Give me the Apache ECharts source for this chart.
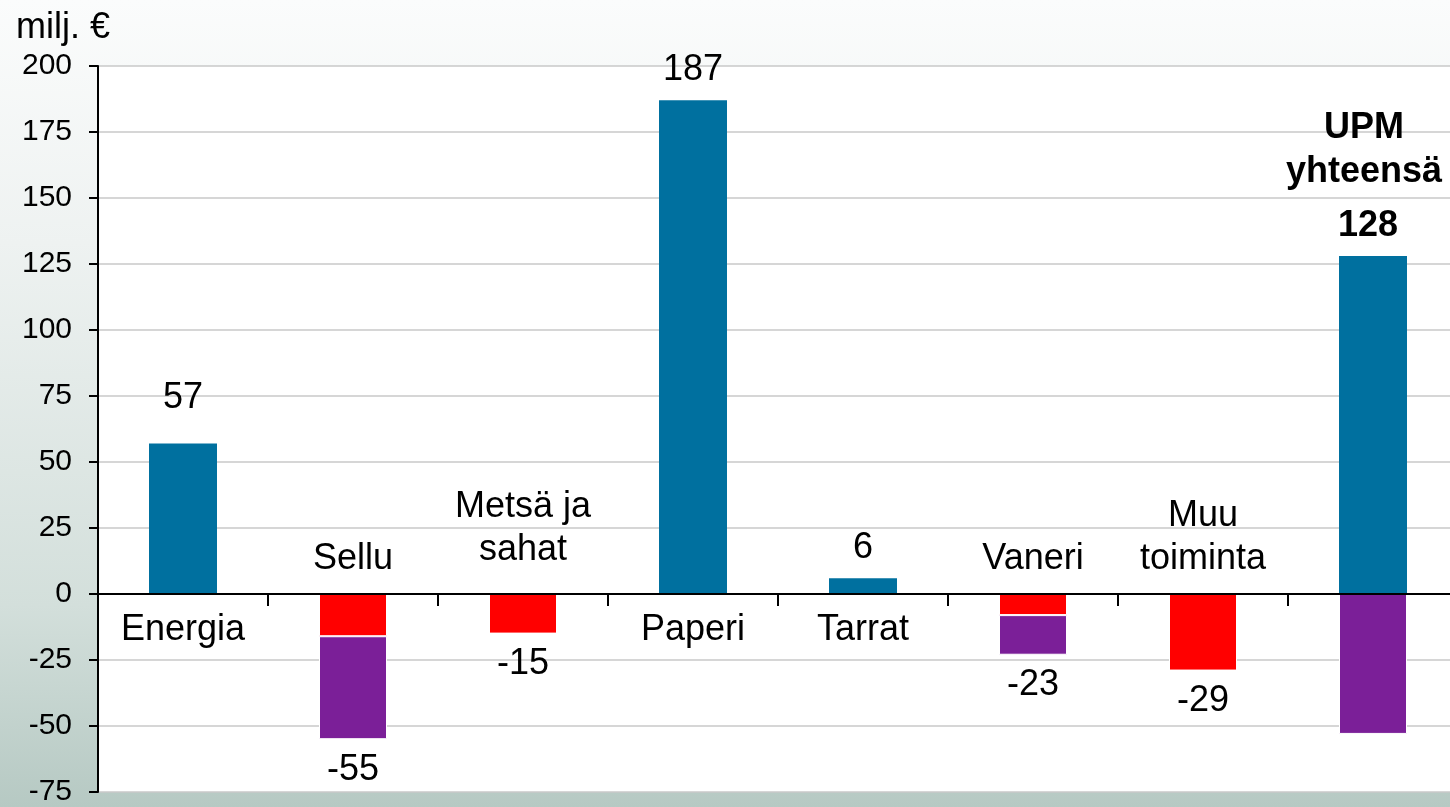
<!DOCTYPE html>
<html>
<head>
    <meta charset="utf-8">
    <title>UPM</title>
    <script src="https://cdn.jsdelivr.net/npm/echarts@6/dist/echarts.min.js"></script>
    <style>
        html, body { margin: 0; padding: 0; overflow: hidden; }
        body { background: linear-gradient(to bottom, #fbfcfc 0%, #eef2f1 30%, #d3dfdb 75%, #b6c9c3 100%); }
    </style>
</head>
<body>
    <!-- vähän leveämpi kuin ikkuna, viimeinen sarake jatkuu reunan yli -->
    <div id="chartwin" style="width: 1460px;height:807px;"></div>
    <script type="text/javascript">
// tiedot
var categories = ['Energia', 'Sellu', 'Metsä ja\nsahat', 'Paperi', 'Tarrat', 'Vaneri', 'Muu\ntoiminta', 'UPM\nyhteensä'];
var blueValues = [57, '-', '-', 187, 6, '-', '-', 128];
var redValues = ['-', -16, -15, '-', '-', -8, -29, '-'];
var purpleValues = ['-', -39, '-', '-', '-', -15, '-', -53];
var totals = [57, -55, -15, 187, 6, -23, -29, 128];
var yTicks = { min: -75, max: 200, step: 25 };

var font = 'Liberation Sans, Arial, sans-serif';
var myChart = echarts.init(document.getElementById('chartwin'));

// arvolabelit: positiivinen ylös, negatiivinen alas
var totalData = totals.map(function (v, i) {
    var last = i === totals.length - 1;
    return {
        value: v,
        label: {
            color: '#000',
            position: v >= 0 ? 'top' : 'bottom',
            distance: (i === 0 ? 27 : 12),
            offset: last ? [-5, 0] : [0, 0],
            fontWeight: last ? 'bold' : 'normal'
        }
    };
});

// kategorianimet nollaviivan toiselle puolelle
var nameData = categories.map(function (c, i) {
    var last = i === categories.length - 1;
    if (last) {
        return { value: totals[i], label: { color: '#000', position: 'top', distance: 62, offset: [-9, 0], fontWeight: 'bold', lineHeight: 44 } };
    }
    var neg = totals[i] < 0;
    return {
        value: 0,
        label: {
            color: '#000',
            position: neg ? 'top' : 'bottom',
            distance: neg ? (c.indexOf('Metsä') === 0 ? 22 : 13) : 14,
            lineHeight: 43
        }
    };
});

var option = {
    animation: false,
    textStyle: { fontFamily: font, color: '#000' },
    title: {
        text: 'milj. €',
        left: 11, top: 5,
        textStyle: { fontSize: 36, fontWeight: 'normal', color: '#000', fontFamily: font }
    },
    grid: {
        left: 98, top: 66, width: 1360, height: 729,
        show: true, backgroundColor: '#fff', borderWidth: 0
    },
    xAxis: {
        type: 'category',
        data: categories,
        z: 5,
        axisLine: { onZero: true, lineStyle: { color: '#000', width: 2 } },
        axisTick: { show: true, length: 12, lineStyle: { color: '#000', width: 2 } },
        axisLabel: { show: false },
        splitLine: { show: false }
    },
    yAxis: {
        type: 'value',
        min: yTicks.min, max: yTicks.max, interval: yTicks.step,
        axisLine: { show: true, lineStyle: { color: '#000', width: 2 } },
        axisTick: { show: true, length: 9, lineStyle: { color: '#000', width: 2 } },
        axisLabel: { fontSize: 30, color: '#000', margin: 26, fontFamily: font },
        splitLine: { lineStyle: { color: '#c8c8c8', width: 1.5 } }
    },
    series: [
        {
            type: 'bar', name: 'sininen', stack: 'a', barWidth: '40%',
            data: blueValues,
            itemStyle: { color: '#00709f' }
        },
        {
            type: 'bar', name: 'punainen', stack: 'a', barWidth: '40%',
            data: redValues,
            itemStyle: { color: '#ff0000', borderColor: '#fff', borderWidth: 1 }
        },
        {
            type: 'bar', name: 'violetti', stack: 'a', barWidth: '40%',
            data: purpleValues,
            itemStyle: { color: '#7b1f98', borderColor: '#fff', borderWidth: 1 }
        },
        {
            type: 'scatter', name: 'yhteensä', symbolSize: 1,
            itemStyle: { color: 'transparent', opacity: 1 },
            data: totalData,
            label: { show: true, fontSize: 36, color: '#000', fontFamily: font },
            z: 10
        },
        {
            type: 'scatter', name: 'nimet', symbolSize: 1,
            itemStyle: { color: 'transparent', opacity: 1 },
            data: nameData,
            label: {
                show: true, fontSize: 36, color: '#000', fontFamily: font,
                formatter: function (p) { return p.name; }
            },
            z: 10
        }
    ]
};

myChart.setOption(option);
    </script>
</body>
</html>
